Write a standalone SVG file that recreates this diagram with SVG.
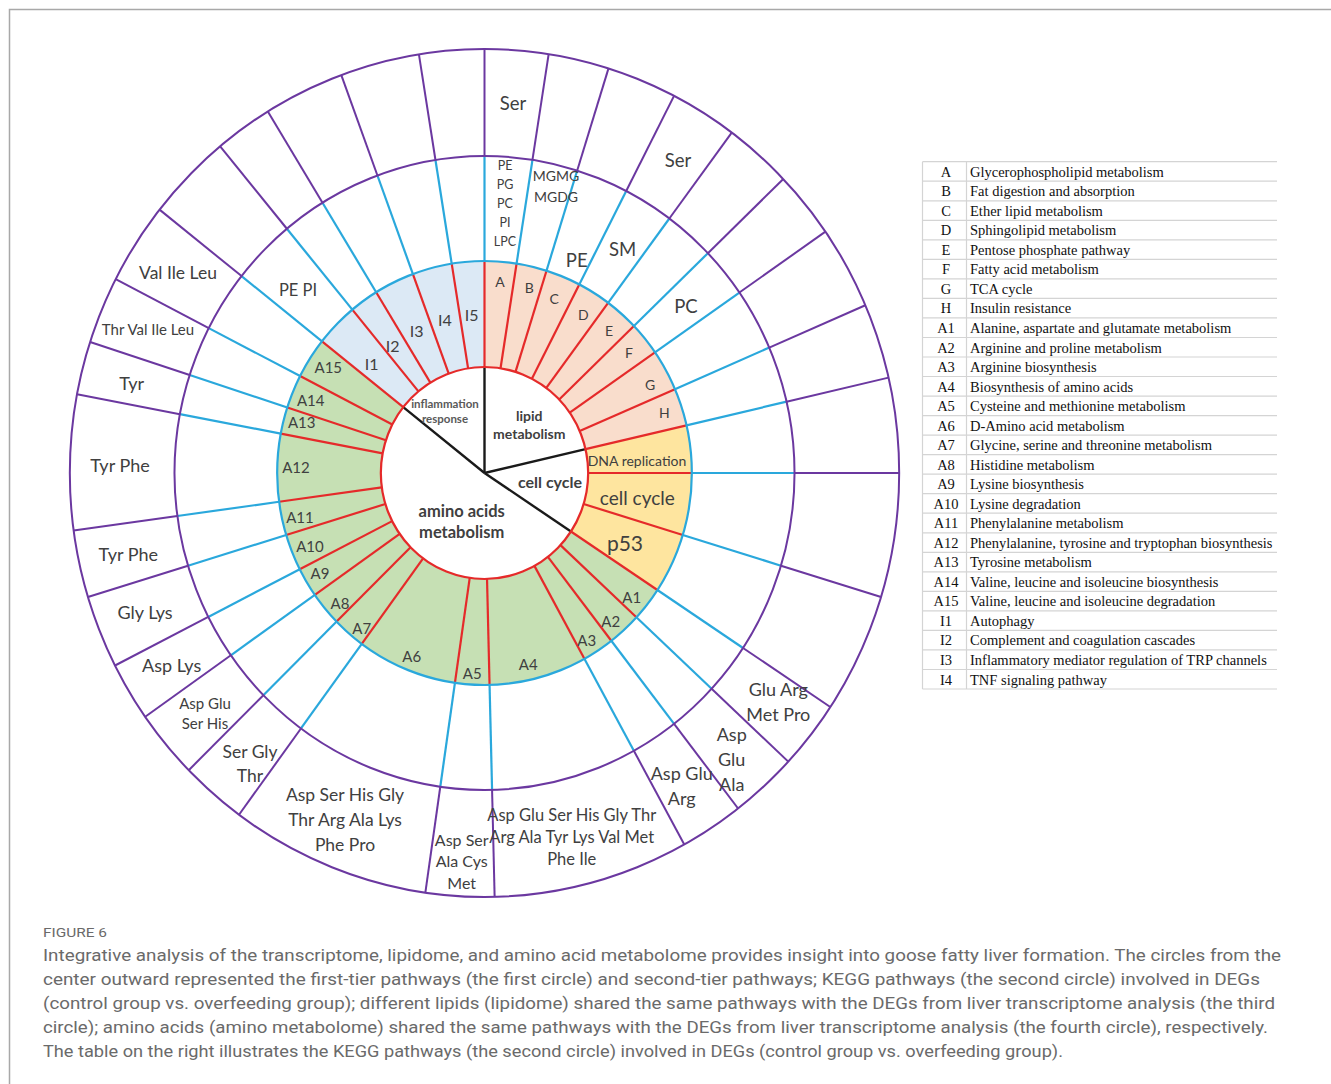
<svg xmlns="http://www.w3.org/2000/svg" xmlns:xlink="http://www.w3.org/1999/xlink" width="1331" height="1084" viewBox="0 0 1331 1084">
<style>
.lb{font-family:Lato,"Noto Sans",sans-serif;fill:#404040;text-anchor:middle}
.bd{font-weight:bold}
.r{stroke:#e52a2a;stroke-width:2.2;vector-effect:non-scaling-stroke;fill:none}
.b{stroke:#2aa8dc;stroke-width:2.2;vector-effect:non-scaling-stroke;fill:none}
.p{stroke:#6b38a0;stroke-width:2;vector-effect:non-scaling-stroke;fill:none}
.k{stroke:#1a1a1a;stroke-width:2.4;vector-effect:non-scaling-stroke}
.tb{font-family:"Liberation Serif","Times New Roman",serif;font-size:14.5px;fill:#111}
.tc{text-anchor:middle}
.tl{stroke:#d4d4d4;stroke-width:1.2}
.cap{font-family:Roboto,"Liberation Sans",sans-serif;font-size:17px;fill:#6a6a6a}
</style>
<defs>
<g id="spoke"><line class="r" x1="0" y1="-106" x2="0" y2="-212"/><line class="b" x1="0" y1="-212" x2="0" y2="-317"/><line class="p" x1="0" y1="-317" x2="0" y2="-424"/></g>
</defs>
<rect width="1331" height="1084" fill="#fff"/>
<path d="M9.5,1084 V9.5 H1331" fill="none" stroke="#a8a8a8" stroke-width="1.5"/>

<g id="wheel" transform="translate(484.5,473) scale(0.978,1)">
  <g id="ring2-fills">
    <path id="fill-lipid" d="M0,0 L0,-212 A212,212 0 0 1 206.57,-47.69 Z" fill="#f9ddcc"/>
    <path id="fill-cellcycle" d="M0,0 L206.57,-47.69 A212,212 0 0 1 176.78,117.01 Z" fill="#fee59f"/>
    <path id="fill-amino" d="M0,0 L176.78,117.01 A212,212 0 1 1 -166.14,-131.68 Z" fill="#c6e0b4"/>
    <path id="fill-inflam" d="M0,0 L-166.14,-131.68 A212,212 0 0 1 0,-212 Z" fill="#dce9f5"/>
  </g>
  <circle id="core" r="106" fill="#fff"/>
  <g id="core-dividers">
    <line class="k" x1="0" y1="0" x2="0" y2="-106"/>
    <line class="k" x1="0" y1="0" x2="0" y2="-106" transform="rotate(77)"/>
    <line class="k" x1="0" y1="0" x2="0" y2="-106" transform="rotate(123.5)"/>
    <line class="k" x1="0" y1="0" x2="0" y2="-106" transform="rotate(308.4)"/>
  </g>
  <g id="connectors">
    <use xlink:href="#spoke" transform="rotate(0)"/>
    <use xlink:href="#spoke" transform="rotate(8.9)"/>
    <use xlink:href="#spoke" transform="rotate(17.4)"/>
    <use xlink:href="#spoke" transform="rotate(27.2)"/>
    <use xlink:href="#spoke" transform="rotate(36.6)"/>
    <use xlink:href="#spoke" transform="rotate(46.1)"/>
    <use xlink:href="#spoke" transform="rotate(55.3)"/>
    <use xlink:href="#spoke" transform="rotate(66.7)"/>
    <use xlink:href="#spoke" transform="rotate(77)"/>
    <use xlink:href="#spoke" transform="rotate(90)"/>
    <use xlink:href="#spoke" transform="rotate(107)"/>
    <use xlink:href="#spoke" transform="rotate(123.5)"/>
    <use xlink:href="#spoke" transform="rotate(132.9)"/>
    <use xlink:href="#spoke" transform="rotate(142.3)"/>
    <use xlink:href="#spoke" transform="rotate(151.2)"/>
    <use xlink:href="#spoke" transform="rotate(178.6)"/>
    <use xlink:href="#spoke" transform="rotate(188.2)"/>
    <use xlink:href="#spoke" transform="rotate(216.3)"/>
    <use xlink:href="#spoke" transform="rotate(225.5)"/>
    <use xlink:href="#spoke" transform="rotate(234.9)"/>
    <use xlink:href="#spoke" transform="rotate(243)"/>
    <use xlink:href="#spoke" transform="rotate(253)"/>
    <use xlink:href="#spoke" transform="rotate(262.2)"/>
    <use xlink:href="#spoke" transform="rotate(280.7)"/>
    <use xlink:href="#spoke" transform="rotate(288)"/>
    <use xlink:href="#spoke" transform="rotate(297.2)"/>
    <use xlink:href="#spoke" transform="rotate(308.4)"/>
    <use xlink:href="#spoke" transform="rotate(320.4)"/>
    <use xlink:href="#spoke" transform="rotate(328.5)"/>
    <use xlink:href="#spoke" transform="rotate(339.8)"/>
    <use xlink:href="#spoke" transform="rotate(350.9)"/>
  </g>
  <g id="rings">
    <circle class="r" r="106"/>
    <circle class="b" r="212"/>
    <circle class="p" r="317"/>
    <circle class="p" r="424"/>
  </g>
</g>

<g id="ring1-labels" class="lb bd">
  <text x="445" y="408.3" font-size="11.5" fill="#595959">inflammation</text>
  <text x="445" y="423.3" font-size="11.5" fill="#595959">response</text>
  <text x="529.3" y="420.6" font-size="14">lipid</text>
  <text x="529.3" y="439.2" font-size="14">metabolism</text>
  <text x="550" y="487.9" font-size="16">cell cycle</text>
  <text x="461.7" y="516.5" font-size="16.5">amino acids</text>
  <text x="461.7" y="538.1" font-size="16.5">metabolism</text>
</g>

<g id="ring2-labels" class="lb">
  <g font-size="14">
    <text x="500" y="286.6">A</text><text x="529.3" y="293.2">B</text><text x="554.3" y="304.2">C</text><text x="583.3" y="319.9">D</text>
    <text x="609" y="335.9">E</text><text x="629" y="358.2">F</text><text x="650" y="389.9">G</text><text x="664.3" y="418.2">H</text>
  </g>
  <g font-size="16">
    <text x="471.7" y="320.6">I5</text><text x="445" y="325.6">I4</text><text x="416.7" y="336.6">I3</text><text x="392.7" y="351.6">I2</text><text x="371.7" y="369.9">I1</text>
  </g>
  <g font-size="15">
    <text x="328.3" y="372.5">A15</text><text x="310.7" y="405.9">A14</text><text x="301.7" y="427.9">A13</text><text x="296" y="472.5">A12</text>
    <text x="300" y="522.5">A11</text><text x="310" y="551.9">A10</text><text x="320" y="579.2">A9</text><text x="340" y="608.5">A8</text>
    <text x="361.7" y="633.5">A7</text><text x="411.7" y="661.9">A6</text><text x="472.3" y="679.2">A5</text><text x="528.3" y="670.2">A4</text>
    <text x="586.7" y="645.9">A3</text><text x="610.7" y="626.9">A2</text><text x="631.7" y="602.5">A1</text>
  </g>
  <text x="637" y="465.6" font-size="14">DNA replication</text>
  <text x="637.3" y="505" font-size="19">cell cycle</text>
  <text x="625" y="550.6" font-size="21">p53</text>
</g>

<g id="ring3-labels" class="lb">
  <g font-size="12.5">
    <text x="505" y="170.4">PE</text><text x="505" y="189.4">PG</text><text x="505" y="208.4">PC</text><text x="505" y="227.4">PI</text><text x="505" y="246.4">LPC</text>
  </g>
  <text x="556" y="180.9" font-size="14">MGMG</text>
  <text x="556" y="201.9" font-size="14">MGDG</text>
  <text x="576.7" y="266.5" font-size="18.5">PE</text>
  <text x="622.7" y="255.8" font-size="18.5">SM</text>
  <text x="686" y="312.5" font-size="18.5">PC</text>
  <text x="298" y="295.8" font-size="16.5">PE PI</text>
</g>

<g id="ring4-labels" class="lb">
  <text x="513" y="109.5" font-size="18.5">Ser</text>
  <text x="678" y="166.5" font-size="18.5">Ser</text>
  <text x="178" y="279.1" font-size="17.5">Val Ile Leu</text>
  <text x="148" y="335.3" font-size="15">Thr Val Ile Leu</text>
  <text x="131.7" y="389.6" font-size="18">Tyr</text>
  <text x="120" y="472.3" font-size="18">Tyr Phe</text>
  <text x="128.3" y="561.3" font-size="18">Tyr Phe</text>
  <text x="145" y="619" font-size="18">Gly Lys</text>
  <text x="171.7" y="672.3" font-size="18">Asp Lys</text>
  <text x="205" y="708.5" font-size="15">Asp Glu</text>
  <text x="205" y="729.2" font-size="15">Ser His</text>
  <text x="250" y="757.8" font-size="17.5">Ser Gly</text>
  <text x="250" y="782.1" font-size="17.5">Thr</text>
  <text x="345" y="801.1" font-size="17.5">Asp Ser His Gly</text>
  <text x="345" y="826.1" font-size="17.5">Thr Arg Ala Lys</text>
  <text x="345" y="851.1" font-size="17.5">Phe Pro</text>
  <text x="461.7" y="845.6" font-size="16">Asp Ser</text>
  <text x="461.7" y="867.3" font-size="16">Ala Cys</text>
  <text x="461.7" y="888.9" font-size="16">Met</text>
  <text x="571.7" y="820.8" font-size="16.5">Asp Glu Ser His Gly Thr</text>
  <text x="571.7" y="842.5" font-size="16.5">Arg Ala Tyr Lys Val Met</text>
  <text x="571.7" y="864.8" font-size="16.5">Phe Ile</text>
  <text x="681.7" y="779.6" font-size="18">Asp Glu</text>
  <text x="681.7" y="804.6" font-size="18">Arg</text>
  <text x="731.7" y="741.3" font-size="18">Asp</text>
  <text x="731.7" y="765.6" font-size="18">Glu</text>
  <text x="731.7" y="791.3" font-size="18">Ala</text>
  <text x="778.3" y="696.3" font-size="18">Glu Arg</text>
  <text x="778.3" y="721.3" font-size="18">Met Pro</text>
</g>

<g id="legend-table">
  <g class="tl">
    <line x1="922.5" y1="161.7" x2="1277" y2="161.7"/>
    <line x1="922.5" y1="181.2" x2="1277" y2="181.2"/>
    <line x1="922.5" y1="200.8" x2="1277" y2="200.8"/>
    <line x1="922.5" y1="220.3" x2="1277" y2="220.3"/>
    <line x1="922.5" y1="239.8" x2="1277" y2="239.8"/>
    <line x1="922.5" y1="259.4" x2="1277" y2="259.4"/>
    <line x1="922.5" y1="278.9" x2="1277" y2="278.9"/>
    <line x1="922.5" y1="298.4" x2="1277" y2="298.4"/>
    <line x1="922.5" y1="317.9" x2="1277" y2="317.9"/>
    <line x1="922.5" y1="337.5" x2="1277" y2="337.5"/>
    <line x1="922.5" y1="357.0" x2="1277" y2="357.0"/>
    <line x1="922.5" y1="376.5" x2="1277" y2="376.5"/>
    <line x1="922.5" y1="396.1" x2="1277" y2="396.1"/>
    <line x1="922.5" y1="415.6" x2="1277" y2="415.6"/>
    <line x1="922.5" y1="435.1" x2="1277" y2="435.1"/>
    <line x1="922.5" y1="454.7" x2="1277" y2="454.7"/>
    <line x1="922.5" y1="474.2" x2="1277" y2="474.2"/>
    <line x1="922.5" y1="493.7" x2="1277" y2="493.7"/>
    <line x1="922.5" y1="513.2" x2="1277" y2="513.2"/>
    <line x1="922.5" y1="532.8" x2="1277" y2="532.8"/>
    <line x1="922.5" y1="552.3" x2="1277" y2="552.3"/>
    <line x1="922.5" y1="571.8" x2="1277" y2="571.8"/>
    <line x1="922.5" y1="591.4" x2="1277" y2="591.4"/>
    <line x1="922.5" y1="610.9" x2="1277" y2="610.9"/>
    <line x1="922.5" y1="630.4" x2="1277" y2="630.4"/>
    <line x1="922.5" y1="649.9" x2="1277" y2="649.9"/>
    <line x1="922.5" y1="669.5" x2="1277" y2="669.5"/>
    <line x1="922.5" y1="689.0" x2="1277" y2="689.0"/>
    <line x1="922.5" y1="161.7" x2="922.5" y2="689"/>
    <line x1="966.5" y1="161.7" x2="966.5" y2="689"/>
  </g>
  <g class="tb tc">
    <text x="946" y="176.7">A</text><text x="946" y="196.2">B</text><text x="946" y="215.8">C</text><text x="946" y="235.3">D</text>
    <text x="946" y="254.8">E</text><text x="946" y="274.4">F</text><text x="946" y="293.9">G</text><text x="946" y="313.4">H</text>
    <text x="946" y="332.9">A1</text><text x="946" y="352.5">A2</text><text x="946" y="372.0">A3</text><text x="946" y="391.5">A4</text>
    <text x="946" y="411.1">A5</text><text x="946" y="430.6">A6</text><text x="946" y="450.1">A7</text><text x="946" y="469.7">A8</text>
    <text x="946" y="489.2">A9</text><text x="946" y="508.7">A10</text><text x="946" y="528.2">A11</text><text x="946" y="547.8">A12</text>
    <text x="946" y="567.3">A13</text><text x="946" y="586.8">A14</text><text x="946" y="606.4">A15</text><text x="946" y="625.9">I1</text>
    <text x="946" y="645.4">I2</text><text x="946" y="664.9">I3</text><text x="946" y="684.5">I4</text>
  </g>
  <g class="tb">
    <text x="970" y="176.7">Glycerophospholipid metabolism</text>
    <text x="970" y="196.2">Fat digestion and absorption</text>
    <text x="970" y="215.8">Ether lipid metabolism</text>
    <text x="970" y="235.3">Sphingolipid metabolism</text>
    <text x="970" y="254.8">Pentose phosphate pathway</text>
    <text x="970" y="274.4">Fatty acid metabolism</text>
    <text x="970" y="293.9">TCA cycle</text>
    <text x="970" y="313.4">Insulin resistance</text>
    <text x="970" y="332.9">Alanine, aspartate and glutamate metabolism</text>
    <text x="970" y="352.5">Arginine and proline metabolism</text>
    <text x="970" y="372.0">Arginine biosynthesis</text>
    <text x="970" y="391.5">Biosynthesis of amino acids</text>
    <text x="970" y="411.1">Cysteine and methionine metabolism</text>
    <text x="970" y="430.6">D-Amino acid metabolism</text>
    <text x="970" y="450.1">Glycine, serine and threonine metabolism</text>
    <text x="970" y="469.7">Histidine metabolism</text>
    <text x="970" y="489.2">Lysine biosynthesis</text>
    <text x="970" y="508.7">Lysine degradation</text>
    <text x="970" y="528.2">Phenylalanine metabolism</text>
    <text x="970" y="547.8">Phenylalanine, tyrosine and tryptophan biosynthesis</text>
    <text x="970" y="567.3">Tyrosine metabolism</text>
    <text x="970" y="586.8">Valine, leucine and isoleucine biosynthesis</text>
    <text x="970" y="606.4">Valine, leucine and isoleucine degradation</text>
    <text x="970" y="625.9">Autophagy</text>
    <text x="970" y="645.4">Complement and coagulation cascades</text>
    <text x="970" y="664.9">Inflammatory mediator regulation of TRP channels</text>
    <text x="970" y="684.5">TNF signaling pathway</text>
  </g>
</g>

<g id="caption" class="cap">
  <text x="43" y="936.5" font-size="13" textLength="64" lengthAdjust="spacingAndGlyphs">FIGURE 6</text>
  <text x="43" y="960.5" textLength="1238" lengthAdjust="spacingAndGlyphs">Integrative analysis of the transcriptome, lipidome, and amino acid metabolome provides insight into goose fatty liver formation. The circles from the</text>
  <text x="43" y="984.5" textLength="1217" lengthAdjust="spacingAndGlyphs">center outward represented the first-tier pathways (the first circle) and second-tier pathways; KEGG pathways (the second circle) involved in DEGs</text>
  <text x="43" y="1008.5" textLength="1232" lengthAdjust="spacingAndGlyphs">(control group vs. overfeeding group); different lipids (lipidome) shared the same pathways with the DEGs from liver transcriptome analysis (the third</text>
  <text x="43" y="1032.5" textLength="1225" lengthAdjust="spacingAndGlyphs">circle); amino acids (amino metabolome) shared the same pathways with the DEGs from liver transcriptome analysis (the fourth circle), respectively.</text>
  <text x="43" y="1056.5" textLength="1020" lengthAdjust="spacingAndGlyphs">The table on the right illustrates the KEGG pathways (the second circle) involved in DEGs (control group vs. overfeeding group).</text>
</g>
</svg>
